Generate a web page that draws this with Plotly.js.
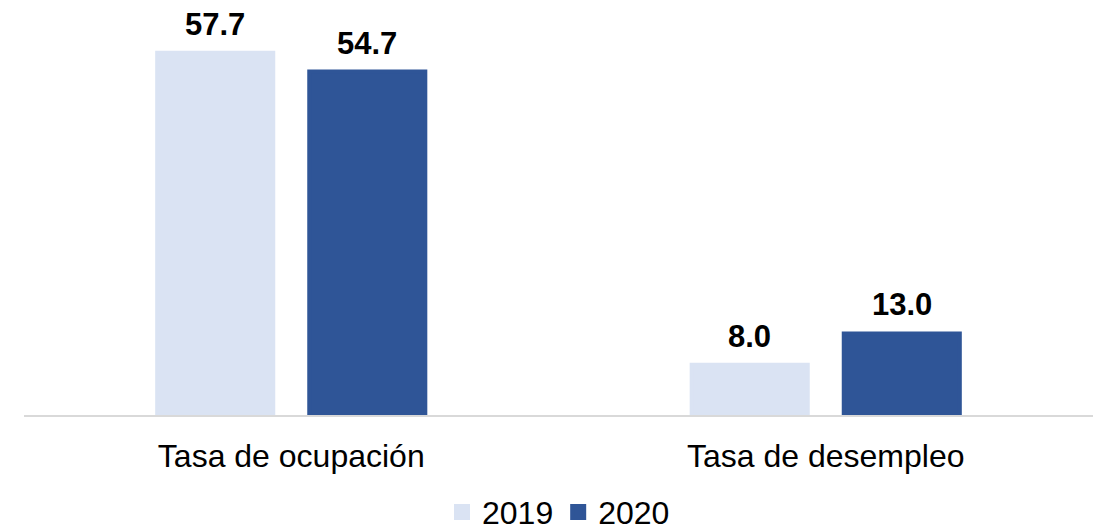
<!DOCTYPE html>
<html>
<head>
<meta charset="utf-8">
<script src="https://cdn.plot.ly/plotly-3.0.1.min.js"></script>
<style>html,body{margin:0;padding:0;background:#fff;}#chart{width:1101px;height:530px;}</style>
</head>
<body>
<div id="chart"></div>
<script>
const categories = ["Tasa de ocupación", "Tasa de desempleo"];
const seriesNames = ["2019", "2020"];
const values2019 = [57.7, 8.0];
const values2020 = [54.7, 13.0];
const colors = ["#dae3f3", "#2f5597"];

const series = [values2019, values2020];
const traces = series.map((vals, i) => ({
  type: "bar",
  name: seriesNames[i],
  x: categories,
  y: vals,
  marker: {color: colors[i], line: {color: colors[i], width: 4}},
  hoverinfo: "skip"
}));

const shifts = [-76, 76];
const annotations = [];
series.forEach((vals, i) => {
  vals.forEach((v, j) => {
    annotations.push({
      x: categories[j], y: v, xref: "x", yref: "y",
      text: "<b>" + v.toFixed(1) + "</b>",
      showarrow: false, xshift: shifts[i], yanchor: "bottom", yshift: 9,
      font: {family: "Liberation Sans, Arial, sans-serif", size: 31, color: "#000"}
    });
  });
});

const layout = {
  width: 1101, height: 530,
  margin: {l: 24, r: 8, t: 5, b: 115, autoexpand: false},
  paper_bgcolor: "#fff", plot_bgcolor: "#fff",
  barmode: "group", bargap: 0.431, bargroupgap: 0.2368,
  font: {family: "Liberation Sans, Arial, sans-serif", size: 32, color: "#000"},
  xaxis: {
    automargin: false,
    showline: true, linecolor: "#d9d9d9", linewidth: 2,
    ticks: "outside", ticklen: 12, tickcolor: "rgba(0,0,0,0)",
    tickfont: {size: 32, color: "#000"}, showgrid: false, zeroline: false
  },
  yaxis: {range: [0, 65.3], visible: false, showgrid: false, zeroline: false, automargin: false},
  showlegend: true,
  legend: {orientation: "h", x: 0.5, xanchor: "center", y: -0.237, yanchor: "middle",
           font: {size: 32, color: "#000"}, itemwidth: 30, tracegroupgap: 0},
  annotations: annotations
};

Plotly.newPlot("chart", traces, layout, {displayModeBar: false, staticPlot: true});
</script>
</body>
</html>
